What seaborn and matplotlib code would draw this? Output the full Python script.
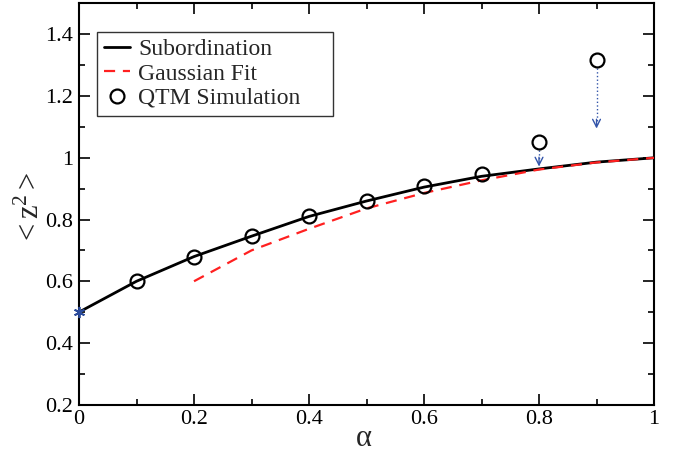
import matplotlib
matplotlib.use("Agg")
import matplotlib.pyplot as plt
import seaborn as sns
import pandas as pd
from matplotlib.ticker import MultipleLocator, FuncFormatter

# ---- data ----
alpha_sub = [0.0, 0.1, 0.2, 0.3, 0.4, 0.5, 0.6, 0.7, 0.8, 0.9, 1.0]
z2_sub = [0.5, 0.60, 0.68, 0.746, 0.81, 0.86, 0.905, 0.94, 0.964, 0.986, 1.0]

alpha_fit = [0.2, 0.3, 0.4, 0.5, 0.6, 0.7, 0.8, 0.9, 1.0]
z2_fit = [0.60, 0.70, 0.77, 0.836, 0.886, 0.927, 0.962, 0.985, 1.0]

alpha_qtm = [0.1, 0.2, 0.3, 0.4, 0.5, 0.6, 0.7, 0.8, 0.9]
z2_qtm = [0.601, 0.679, 0.747, 0.811, 0.86, 0.909, 0.948, 1.051, 1.316]

alpha_star = [0.0]
z2_star = [0.5]

arrow_x = [0.8, 0.9]
arrow_start = [1.026, 1.292]
arrow_end = [0.972, 1.095]

sns.set_style("ticks")
plt.rcParams['font.family'] = ['Liberation Serif', 'DejaVu Serif']
plt.rcParams['mathtext.fontset'] = 'stix'

fig = plt.figure(figsize=(6.73, 4.53), dpi=100)
ax = fig.add_axes([0.1174, 0.1066, 0.8544, 0.8857])

df_sub = pd.DataFrame({"alpha": alpha_sub, "z2": z2_sub})
df_fit = pd.DataFrame({"alpha": alpha_fit, "z2": z2_fit})
df_qtm = pd.DataFrame({"alpha": alpha_qtm, "z2": z2_qtm})

sns.lineplot(data=df_sub, x="alpha", y="z2", ax=ax, color="black", lw=2.0,
             label="Subordination", zorder=3)
sns.lineplot(data=df_fit, x="alpha", y="z2", ax=ax, color="#ff2020", lw=1.6,
             label="Gaussian Fit", zorder=4)
ax.lines[1].set_dashes([5, 3.5])
ax.plot(alpha_qtm, z2_qtm, ls="none", marker="o", ms=10, mfc="none", mec="black",
        mew=1.6, label="QTM Simulation", zorder=5)
ax.plot(alpha_star, z2_star, ls="none", marker=(6, 2, 0), ms=8, color="#2a4a9a",
        mew=1.3, zorder=6, clip_on=False)

for xa, ys, ye in zip(arrow_x, arrow_start, arrow_end):
    ax.plot([xa, xa], [ys, ye + 0.005], ls=":", color="#3355aa", lw=1.0, zorder=2)
    ax.annotate("", xy=(xa, ye), xytext=(xa, ye + 0.03),
                arrowprops=dict(arrowstyle="->,head_length=0.55,head_width=0.28",
                                color="#3355aa", lw=1.0, shrinkA=0, shrinkB=0))

ax.set_xlim(0, 1)
ax.set_ylim(0.2, 1.5)
ax.xaxis.set_major_locator(MultipleLocator(0.2))
ax.xaxis.set_minor_locator(MultipleLocator(0.1))
ax.yaxis.set_major_locator(MultipleLocator(0.2))
ax.yaxis.set_minor_locator(MultipleLocator(0.1))
fmt = FuncFormatter(lambda v, p: "%g" % round(v, 3))
ax.xaxis.set_major_formatter(fmt)
ax.yaxis.set_major_formatter(fmt)
ax.set_yticks([0.2, 0.4, 0.6, 0.8, 1.0, 1.2, 1.4])

ax.tick_params(which="both", direction="in", top=True, right=True, width=1.2,
               labelsize=16, colors="black")
ax.tick_params(which="major", length=8, pad=4)
ax.tick_params(which="minor", length=4)
for s in ax.spines.values():
    s.set_linewidth(1.5)
    s.set_color("black")

ax.set_xlabel("α", fontsize=22)
ax.xaxis.set_label_coords(0.495, -0.083)
ax.xaxis.label.set_va("center")
ax.set_ylabel(r"$\mathregular{<z^{2}>}$", fontsize=22)
ax.yaxis.set_label_coords(-0.082, 0.49)
ax.yaxis.label.set_va("center")

leg = ax.legend(loc="upper left", bbox_to_anchor=(0.031, 0.93, 0.41, 0.0),
                mode="expand", borderaxespad=0,
                fontsize=17, frameon=True, fancybox=False, edgecolor="black",
                handlelength=1.1, handletextpad=0.35, labelspacing=0.12,
                borderpad=0.3)
leg.get_frame().set_linewidth(1.0)

fig.savefig("out.png", dpi=100)
